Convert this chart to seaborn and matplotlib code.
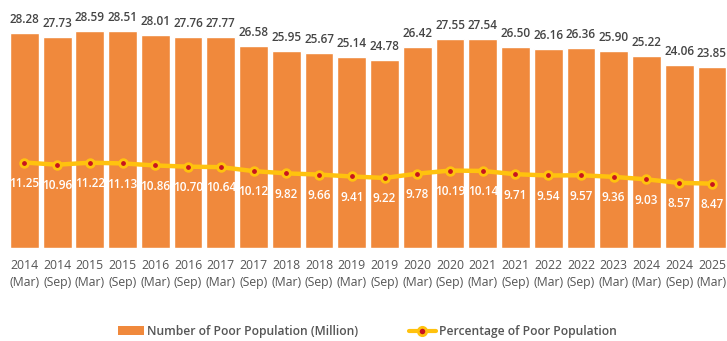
import matplotlib
matplotlib.use("Agg")
import matplotlib.pyplot as plt
import seaborn as sns
import numpy as np
from matplotlib.patches import Patch
from matplotlib.lines import Line2D

years = ["2014", "2014", "2015", "2015", "2016", "2016", "2017", "2017", "2018", "2018", "2019",
         "2019", "2020", "2020", "2021", "2021", "2022", "2022", "2023", "2024", "2024", "2025"]
months = ["Mar", "Sep", "Mar", "Sep", "Mar", "Sep", "Mar", "Sep", "Mar", "Sep", "Mar",
          "Sep", "Mar", "Sep", "Mar", "Sep", "Mar", "Sep", "Mar", "Mar", "Sep", "Mar"]
poor_million = [28.28, 27.73, 28.59, 28.51, 28.01, 27.76, 27.77, 26.58, 25.95, 25.67, 25.14,
                24.78, 26.42, 27.55, 27.54, 26.50, 26.16, 26.36, 25.90, 25.22, 24.06, 23.85]
poor_pct = [11.25, 10.96, 11.22, 11.13, 10.86, 10.70, 10.64, 10.12, 9.82, 9.66, 9.41,
            9.22, 9.78, 10.19, 10.14, 9.71, 9.54, 9.57, 9.36, 9.03, 8.57, 8.47]
labels = [f"{y}\n({m})" for y, m in zip(years, months)]

BAR = "#F0893C"
YEL = "#FFC20E"
RED = "#C8141E"
TXT = "#555555"

sns.set_theme(style="white")
plt.rcParams["font.family"] = ["Open Sans", "DejaVu Sans"]

fig = plt.figure(figsize=(7.27, 3.41), dpi=100)
fig.patch.set_facecolor("white")
ax = fig.add_axes([0, 1 - 248 / 341, 1, 248 / 341])

sns.barplot(x=labels, y=poor_million, color=BAR, saturation=1, width=0.88, ax=ax)
sns.pointplot(x=labels, y=poor_pct, color=YEL, markers="o", ax=ax,
              linewidth=3.2, markersize=5.5)
for ln in ax.lines:
    ln.set_markerfacecolor(RED)
    ln.set_markeredgecolor(YEL)
    ln.set_markeredgewidth(2)
    ln.set_zorder(3)

for i, (v, p) in enumerate(zip(poor_million, poor_pct)):
    ax.annotate(f"{v:.2f}", (i, v), xytext=(0, 5), textcoords="offset points",
                ha="center", va="bottom", fontsize=8.5, color="#444444", fontweight="semibold")
    ax.annotate(f"{p:.2f}", (i, p), xytext=(0, -15), textcoords="offset points",
                ha="center", va="center", fontsize=8.5, color="white", fontweight="semibold")

ax.set_xlim(-0.745, 21.46)
ax.set_ylim(0, 248 / 7.6)
ax.set_yticks([])
for s in ax.spines.values():
    s.set_visible(False)
ax.tick_params(axis="x", length=0, pad=8, labelsize=8.8, labelcolor=TXT)
for t in ax.get_xticklabels():
    t.set_linespacing(1.35)
ax.set_xlabel("")
ax.set_ylabel("")

handles = [Patch(facecolor=BAR, edgecolor="none"),
           Line2D([0], [0], color=YEL, lw=3, marker="o", markersize=6,
                  markerfacecolor=RED, markeredgecolor=YEL, markeredgewidth=2)]
fig.legend(handles, ["Number of Poor Population (Million)", "Percentage of Poor Population"],
           loc="center", bbox_to_anchor=(0.505, 0.028), ncol=2, frameon=False,
           handlelength=2.2, handletextpad=0.25, columnspacing=4.2,
           prop={"size": 8.7, "weight": "semibold"}, labelcolor=TXT)

fig.savefig("out.png", dpi=100)
